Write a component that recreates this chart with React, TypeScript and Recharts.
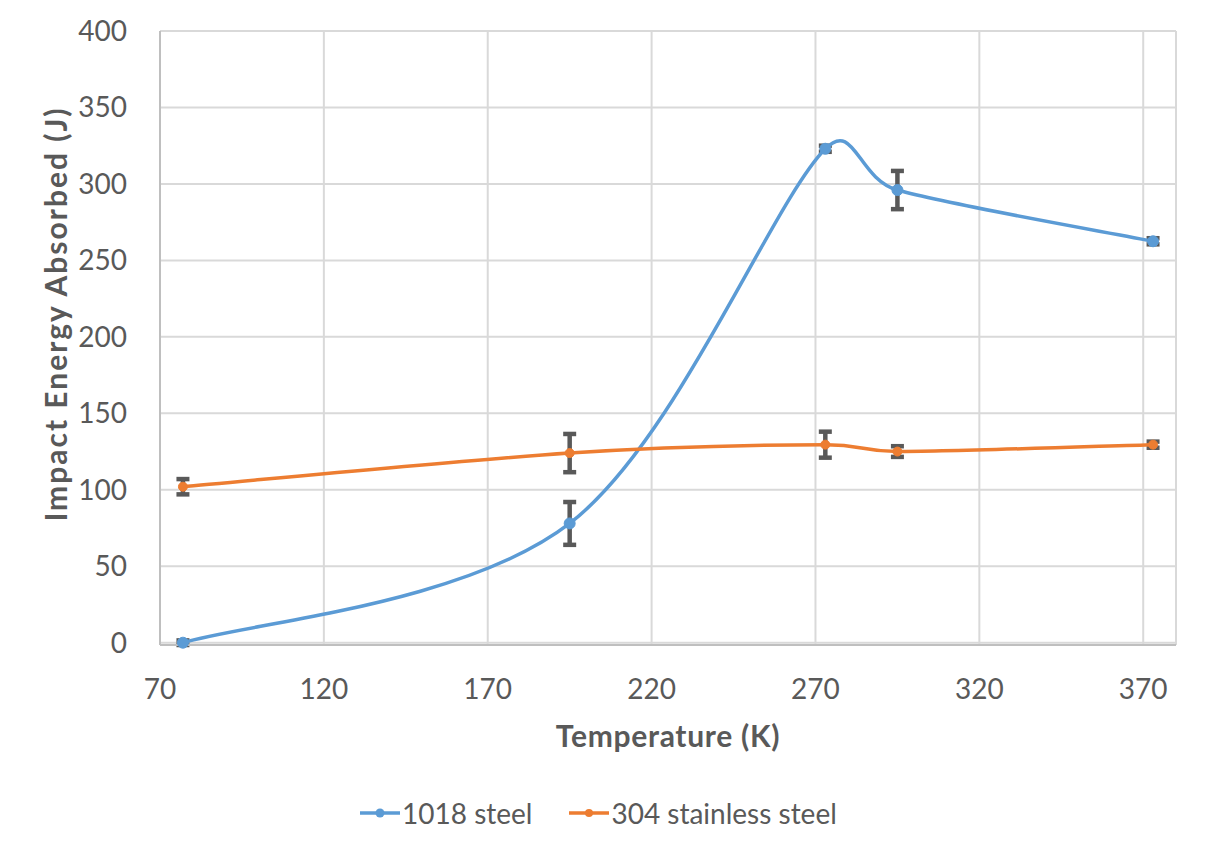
import React from 'react';
import { LineChart, Line, XAxis, YAxis, CartesianGrid, ErrorBar, Legend } from 'recharts';

const temperatures = [77, 195, 273, 295, 373];
const steel1018 = [0, 78, 323, 296, 262.5];
const steel1018Err = [1.5, 14, 2, 12.5, 2];
const stainless304 = [102, 124, 129.5, 125, 129.5];
const stainless304Err = [5, 12.5, 8.5, 3.5, 2];

const xTicks = [70, 120, 170, 220, 270, 320, 370];
const yTicks = [0, 50, 100, 150, 200, 250, 300, 350, 400];
const xMinorTicks = [70, 80, 90, 100, 110, 120, 130, 140, 150, 160, 170, 180, 190, 200, 210, 220, 230, 240, 250, 260, 270, 280, 290, 300, 310, 320, 330, 340, 350, 360, 370, 380];
const yMinorTicks = [0, 10, 20, 30, 40, 50, 60, 70, 80, 90, 100, 110, 120, 130, 140, 150, 160, 170, 180, 190, 200, 210, 220, 230, 240, 250, 260, 270, 280, 290, 300, 310, 320, 330, 340, 350, 360, 370, 380, 390, 400];

const data = temperatures.map((t, i) => ({
  t,
  a: steel1018[i],
  aErr: steel1018Err[i],
  b: stainless304[i],
  bErr: stainless304Err[i],
}));

const BLUE = '#5B9BD5';
const ORANGE = '#ED7D31';
const TEXT = '#595959';

// Excel-like smoothed line: Catmull-Rom Bezier (1/6 tangents), capped at half segment length
function excelSmooth(context: any) {
  let pts: number[][] = [];
  return {
    areaStart() {},
    areaEnd() {},
    lineStart() {
      pts = [];
    },
    point(x: number, y: number) {
      pts.push([+x, +y]);
    },
    lineEnd() {
      const n = pts.length;
      if (!n) return;
      context.moveTo(pts[0][0], pts[0][1]);
      for (let i = 0; i < n - 1; i++) {
        const p0 = pts[Math.max(i - 1, 0)];
        const p1 = pts[i];
        const p2 = pts[i + 1];
        const p3 = pts[Math.min(i + 2, n - 1)];
        const seg = Math.hypot(p2[0] - p1[0], p2[1] - p1[1]);
        const cap = (v: number[]) => {
          const l = Math.hypot(v[0], v[1]);
          const m = seg / 2;
          return l > m && l > 0 ? [(v[0] * m) / l, (v[1] * m) / l] : v;
        };
        const t1 = cap([(p2[0] - p0[0]) / 6, (p2[1] - p0[1]) / 6]);
        const t2 = cap([(p3[0] - p1[0]) / 6, (p3[1] - p1[1]) / 6]);
        context.bezierCurveTo(p1[0] + t1[0], p1[1] + t1[1], p2[0] - t2[0], p2[1] - t2[1], p2[0], p2[1]);
      }
    },
  };
}

const renderLegend = (props: any) => {
  const payload = props.payload || [];
  return (
    <div style={{ display: 'flex', alignItems: 'center', height: 40, paddingLeft: 360, boxSizing: 'border-box' }}>
      {payload.map((entry: any, i: number) => (
        <div key={i} style={{ display: 'flex', alignItems: 'center', marginRight: 37 }}>
          <svg width={42} height={20} style={{ display: 'block' }}>
            <line x1={0} y1={10} x2={40} y2={10} stroke={entry.color} strokeWidth={3.5} />
            <circle cx={20} cy={10} r={i === 0 ? 4.5 : 4} fill={entry.color} />
          </svg>
          <span style={{ fontSize: 28, color: TEXT, lineHeight: '40px', whiteSpace: 'nowrap' }}>{entry.value}</span>
        </div>
      ))}
    </div>
  );
};

const YTitle = () => {
  const cx = 55;
  const cy = 314;
  return (
    <text
      x={cx}
      y={cy}
      transform={`rotate(-90 ${cx} ${cy})`}
      textAnchor="middle"
      dominantBaseline="central"
      fill={TEXT}
      fontSize={30}
      fontWeight="bold"
      letterSpacing={2}
    >
      Impact Energy Absorbed (J)
    </text>
  );
};

const XTitle = (p: any) => {
  const vb = p.viewBox || { x: 160, y: 643, width: 1016, height: 102 };
  const cx = vb.x + vb.width / 2;
  const cy = vb.y + vb.height;
  return (
    <text x={cx} y={cy} textAnchor="middle" fill={TEXT} fontSize={30} fontWeight="bold" letterSpacing={0.7}>
      Temperature (K)
    </text>
  );
};

export default function App() {
  return (
    <div style={{ position: 'absolute', left: 0, top: 0, width: 1228, height: 857, fontFamily: 'Lato, sans-serif', background: '#fff' }}>
      <LineChart width={1228} height={857} data={data} margin={{ top: 31, right: 52, left: 0, bottom: 70 }}>
        <CartesianGrid stroke="#d9d9d9" strokeWidth={2} />
        <XAxis
          type="number"
          dataKey="t"
          domain={[70, 380]}
          ticks={xTicks}
          tickLine={false}
          tickSize={0}
          tickMargin={34}
          height={102}
          axisLine={{ stroke: '#bfbfbf', strokeWidth: 2 }}
          tick={{ fill: TEXT, fontSize: 28 }}
          allowDataOverflow
          label={{ content: XTitle }}
        />
        <XAxis
          xAxisId="minor"
          type="number"
          dataKey="t"
          domain={[70, 380]}
          ticks={xMinorTicks}
          mirror
          height={0}
          tick={false}
          tickSize={6}
          tickLine={{ stroke: '#bfbfbf', strokeWidth: 2 }}
          axisLine={false}
          allowDataOverflow
        />
        <YAxis
          type="number"
          domain={[0, 400]}
          ticks={yTicks}
          width={160}
          tickLine={false}
          tickSize={0}
          tickMargin={33}
          axisLine={{ stroke: '#bfbfbf', strokeWidth: 2 }}
          tick={{ fill: TEXT, fontSize: 28 }}
          label={{ content: YTitle }}
        />
        <YAxis
          yAxisId="minor"
          type="number"
          domain={[0, 400]}
          ticks={yMinorTicks}
          mirror
          width={0}
          tick={false}
          tickSize={6}
          tickLine={{ stroke: '#bfbfbf', strokeWidth: 2 }}
          axisLine={false}
        />
        <Legend
          verticalAlign="bottom"
          content={renderLegend}
          wrapperStyle={{ top: 793, left: 0, bottom: 'auto', width: 1228, height: 40 }}
        />
        <Line
          name="1018 steel"
          dataKey="a"
          type={excelSmooth as any}
          stroke={BLUE}
          strokeWidth={3.5}
          dot={{ r: 5.5, fill: BLUE, stroke: BLUE, strokeWidth: 1 }}
          activeDot={false}
          isAnimationActive={false}
        >
          <ErrorBar dataKey="aErr" direction="y" width={6.5} strokeWidth={4.5} stroke="#595959" />
        </Line>
        <Line
          name="304 stainless steel"
          dataKey="b"
          type={excelSmooth as any}
          stroke={ORANGE}
          strokeWidth={3.5}
          dot={{ r: 4.5, fill: ORANGE, stroke: ORANGE, strokeWidth: 1 }}
          activeDot={false}
          isAnimationActive={false}
        >
          <ErrorBar dataKey="bErr" direction="y" width={6.5} strokeWidth={4.5} stroke="#595959" />
        </Line>
      </LineChart>
    </div>
  );
}
